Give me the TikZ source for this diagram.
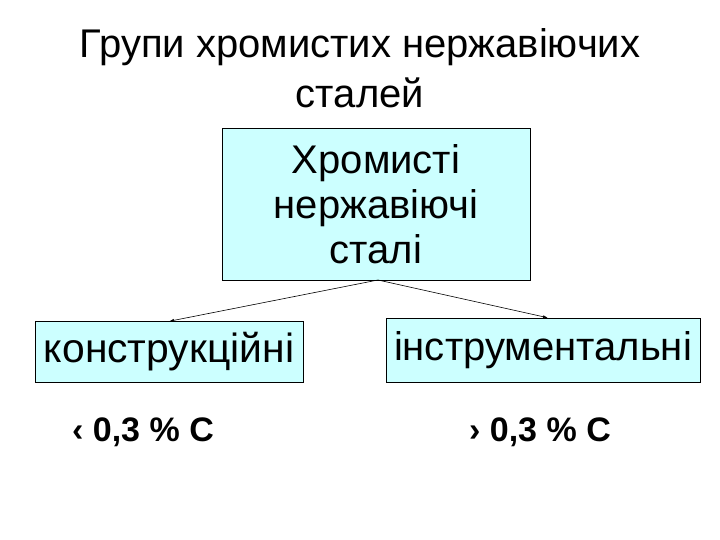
\documentclass[tikz,border=0pt]{standalone}
\usepackage{fontspec}
\setmainfont{Liberation Sans}
\usetikzlibrary{arrows.meta}
\definecolor{boxfill}{RGB}{204,255,255}
\tikzset{box/.style={draw=black,fill=boxfill,inner sep=0pt,align=center},
arr/.style={-{Latex[length=5pt,width=3pt]},line width=0.6pt}}
\begin{document}
\begin{tikzpicture}[x=1pt,y=-1pt]
\useasboundingbox (0,0) rectangle (720,540);
\node (t) at (360,68) [align=center,font=\fontsize{40}{50}\selectfont] {Групи хромистих нержавіючих\\сталей};
\node (c) [box,minimum width=308,minimum height=152,font=\fontsize{40}{45}\selectfont] at (376,204) {Хромисті\\нержавіючі\\сталі};
\node (l) [box,minimum width=268,minimum height=61,font=\fontsize{40}{40}\selectfont] at (169,352) {\resizebox{250pt}{!}{конструкційні}};
\node (r) [box,minimum width=314,minimum height=64,font=\fontsize{40}{40}\selectfont] at (543,350) {\resizebox{298pt}{!}{інструментальні}};
\node (lt) at (143,432) [font=\bfseries\fontsize{34}{40}\selectfont] {‹ 0,3 \% C};
\node (rt) at (540,432) [font=\bfseries\fontsize{34}{40}\selectfont] {› 0,3 \% C};
\coordinate (o) at (378,280);
\draw[arr] (o) -- (l.north);
\draw[arr] (o) -- ([xshift=5pt]r.north);
\end{tikzpicture}
\end{document}
